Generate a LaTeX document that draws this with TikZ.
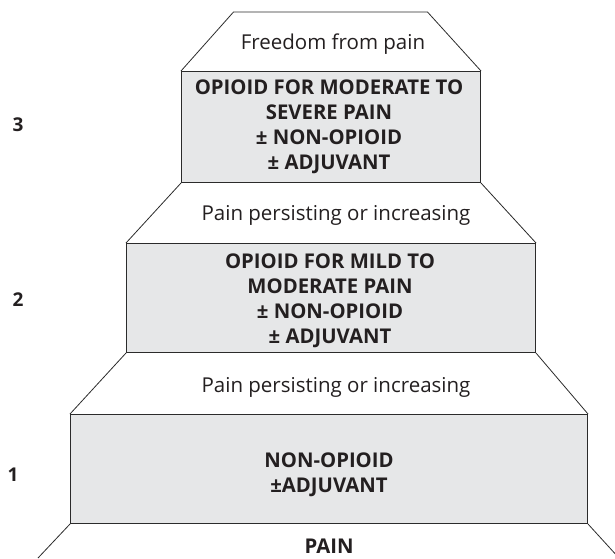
\documentclass[tikz,border=0pt]{standalone}
\usepackage{fontspec}
\setmainfont{Open Sans}
\definecolor{boxgrey}{HTML}{E6E7E8}
\definecolor{linegrey}{HTML}{2B2B2B}
\definecolor{textgrey}{HTML}{231F20}
\begin{document}
\begin{tikzpicture}[x=1pt,y=-1pt,
  stepbox/.style={draw=linegrey, fill=boxgrey, line width=1pt, inner sep=0pt, anchor=north west},
  edge/.style={draw=linegrey, line width=0.8pt},
  regtext/.style={text=textgrey, inner sep=0pt, font=\fontsize{20.5}{24}\selectfont},
  boldtext/.style={text=textgrey, inner sep=0pt, align=center, font=\fontsize{20.3}{25}\selectfont\bfseries},
  numtext/.style={text=textgrey, inner sep=0pt, font=\fontsize{19}{22}\selectfont\bfseries}]
\useasboundingbox (0,0) rectangle (615,558);
\clip (0,0) rectangle (615,558);
% steps
\node[stepbox, minimum width=299pt, minimum height=111pt] (b3) at (181,71) {};
\node[stepbox, minimum width=409pt, minimum height=109pt] (b2) at (126,243) {};
\node[stepbox, minimum width=517pt, minimum height=109pt] (b1) at (70,414) {};
% free ends
\coordinate (topL) at (233.5,12);
\coordinate (topR) at (427.5,12);
\coordinate (botL) at (38,558);
\coordinate (botR) at (619,558);
% sloping sides
\draw[edge] (b3.north west) -- (topL) -- (topR) -- (b3.north east);
\draw[edge] (b3.south west) -- (b2.north west);
\draw[edge] (b3.south east) -- (b2.north east);
\draw[edge] (b2.south west) -- (b1.north west);
\draw[edge] (b2.south east) -- (b1.north east);
\draw[edge] (b1.south west) -- (botL);
\draw[edge] (b1.south east) -- (botR);
% texts
\node[regtext] (free) at (333,44) {Freedom from pain};
\node[boldtext] (t3) at (329,127) {OPIOID FOR MODERATE TO\\SEVERE PAIN\\± NON-OPIOID\\± ADJUVANT};
\node[regtext] (pp2) at (336,215) {Pain persisting or increasing};
\node[boldtext] (t2) at (330,301) {OPIOID FOR MILD TO\\MODERATE PAIN\\± NON-OPIOID\\± ADJUVANT};
\node[regtext] (pp1) at (336,387) {Pain persisting or increasing};
\node[boldtext] (t1) at (329,475) {NON-OPIOID\\±ADJUVANT};
\node[boldtext] (pain) at (329,546) {PAIN};
\node[numtext] (n3) at (18,125) {3};
\node[numtext] (n2) at (18,300) {2};
\node[numtext] (n1) at (13,475) {1};
\end{tikzpicture}
\end{document}
